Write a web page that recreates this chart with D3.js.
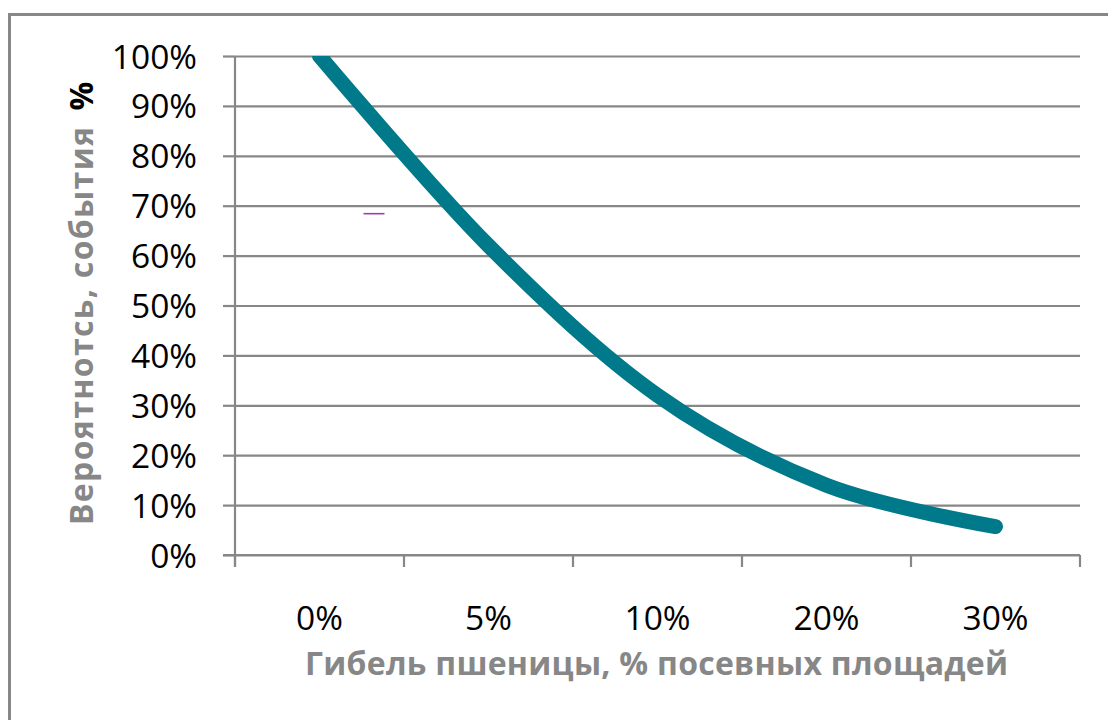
<!DOCTYPE html>
<html>
<head>
<meta charset="utf-8">
<script src="https://cdn.jsdelivr.net/npm/d3@7"></script>
<style>
  html, body { margin: 0; padding: 0; background: #fff; }
  svg { display: block; }
</style>
</head>
<body>
<svg id="chart" width="1108" height="720"></svg>
<script>
// Categories on the horizontal axis (share of sown area lost)
const categories = ["0%", "5%", "10%", "20%", "30%"];
// Probability of the event for each category
const probability = [1.00, 0.62, 0.32, 0.14, 0.057];
// Vertical axis ticks
const yTicks = [0, 0.1, 0.2, 0.3, 0.4, 0.5, 0.6, 0.7, 0.8, 0.9, 1.0];

const xTitle = "Гибель пшеницы, % посевных площадей";
const yTitle = "Вероятнотсь, события";
const yTitleUnit = "%";

const svg = d3.select("#chart");
const W = 1108, H = 720;
const plot = { left: 235, right: 1080, top: 56, bottom: 555 };
const gridColor = "#878787";
const lineColor = "#00798A";
const tickFont = "'Open Sans', 'Liberation Sans', sans-serif";
const tickSize = "33.5px";
const titleSize = "32px";

// Outer chart frame (runs off the right and bottom edges)
svg.append("rect")
  .attr("x", 9.5).attr("y", 14.5)
  .attr("width", W + 20).attr("height", H + 20)
  .attr("fill", "none")
  .attr("stroke", gridColor)
  .attr("stroke-width", 3);

const x = d3.scaleBand().domain(categories).range([plot.left, plot.right]).padding(0);
const y = d3.scaleLinear().domain([0, 1]).range([plot.bottom, plot.top]);
const cx = c => x(c) + x.bandwidth() / 2;

// Horizontal gridlines
const grid = svg.append("g")
  .attr("transform", `translate(${plot.left},0)`)
  .call(d3.axisLeft(y).tickValues(yTicks).tickSize(-(plot.right - plot.left)).tickFormat(""));
grid.select(".domain").remove();
grid.selectAll(".tick line").attr("stroke", gridColor).attr("stroke-width", 2.2);

// Vertical axis with outside ticks and percentage labels
const yAxis = svg.append("g")
  .attr("transform", `translate(${plot.left},0)`)
  .call(d3.axisLeft(y).tickValues(yTicks).tickSize(12).tickPadding(26).tickFormat(d3.format(".0%")));
yAxis.select(".domain")
  .attr("d", `M0,${plot.top}V${plot.bottom + 12}`)
  .attr("stroke", gridColor).attr("stroke-width", 2.2);
yAxis.selectAll(".tick line").attr("stroke", gridColor).attr("stroke-width", 2.2);
yAxis.selectAll(".tick text")
  .attr("fill", "#000")
  .style("font-family", tickFont)
  .style("font-size", tickSize)
  .attr("dy", "0.36em");

// Horizontal axis: line, ticks at category boundaries, labels centred in bands
const xAxis = svg.append("g")
  .attr("transform", `translate(0,${plot.bottom})`)
  .call(d3.axisBottom(x).tickSize(0).tickPadding(51));
xAxis.select(".domain")
  .attr("d", `M${plot.left - 12},0H${plot.right}`)
  .attr("stroke", gridColor).attr("stroke-width", 2.2);
xAxis.selectAll(".tick text")
  .attr("fill", "#000")
  .style("font-family", tickFont)
  .style("font-size", tickSize);
const edges = categories.map(c => x(c)).concat([plot.right]);
xAxis.selectAll("line.edge")
  .data(edges)
  .enter().append("line")
  .attr("class", "edge")
  .attr("x1", d => d).attr("x2", d => d)
  .attr("y1", 0).attr("y2", 12)
  .attr("stroke", gridColor).attr("stroke-width", 2.2);

// Clip the smoothed series to the plot area
svg.append("clipPath").attr("id", "plotClip")
  .append("rect")
  .attr("x", plot.left).attr("y", plot.top)
  .attr("width", plot.right - plot.left + 20)
  .attr("height", plot.bottom - plot.top);

const line = d3.line()
  .x((d, i) => cx(categories[i]))
  .y(d => y(d))
  .curve(d3.curveCatmullRom.alpha(0));

svg.append("path")
  .datum(probability)
  .attr("clip-path", "url(#plotClip)")
  .attr("d", line)
  .attr("fill", "none")
  .attr("stroke", lineColor)
  .attr("stroke-width", 15)
  .attr("stroke-linecap", "round")
  .attr("stroke-linejoin", "round");

// Small stray dash inside the plot
const dashLevel = 0.684;
svg.append("line")
  .attr("x1", cx(categories[0]) + 44).attr("x2", cx(categories[0]) + 65)
  .attr("y1", y(dashLevel)).attr("y2", y(dashLevel))
  .attr("stroke", "#A23CB4").attr("stroke-width", 1.6);

// Axis titles
svg.append("text")
  .attr("x", (plot.left + plot.right) / 2 - 1)
  .attr("y", 675)
  .attr("text-anchor", "middle")
  .attr("fill", "#878787")
  .attr("textLength", 703)
  .attr("lengthAdjust", "spacing")
  .style("font-family", "'Open Sans', sans-serif")
  .style("font-weight", "bold")
  .style("font-size", titleSize)
  .text(xTitle);

const yt = svg.append("g").attr("transform", "translate(93,0) rotate(-90)");
yt.append("text")
  .attr("x", -525).attr("y", 0)
  .attr("text-anchor", "start")
  .attr("fill", "#878787")
  .attr("textLength", 398)
  .attr("lengthAdjust", "spacing")
  .style("font-family", "'Open Sans', sans-serif")
  .style("font-weight", "bold")
  .style("font-size", titleSize)
  .text(yTitle);
yt.append("text")
  .attr("x", -96).attr("y", 0)
  .attr("text-anchor", "middle")
  .attr("fill", "#000")
  .style("font-family", "'Open Sans', sans-serif")
  .style("font-weight", "bold")
  .style("font-size", titleSize)
  .text(yTitleUnit);
</script>
</body>
</html>
